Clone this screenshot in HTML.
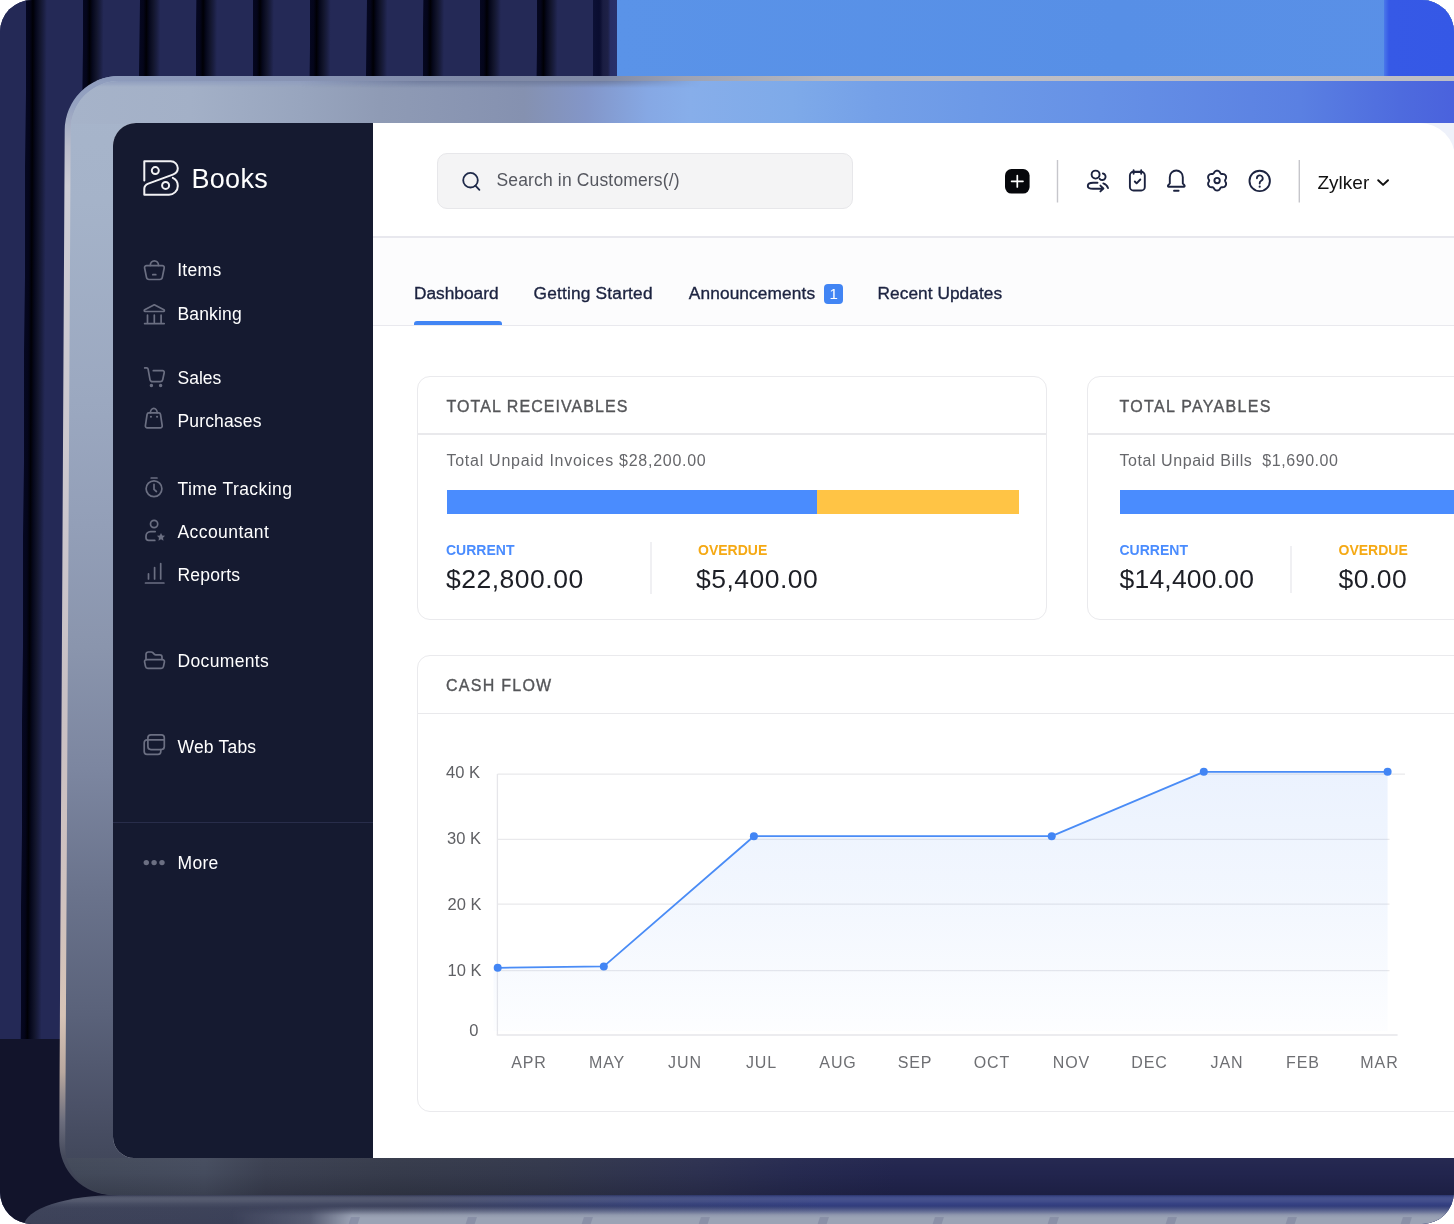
<!DOCTYPE html>
<html lang="en">
<head>
<meta charset="utf-8">
<title>Books Dashboard</title>
<style>
*{box-sizing:border-box;margin:0;padding:0}
html,body{width:1454px;height:1224px;background:#fff;overflow:hidden}
body{font-family:"Liberation Sans",sans-serif;position:relative}
#stage{position:absolute;left:0;top:0;width:1454px;height:1224px;border-radius:32px;overflow:hidden;background:#242956}
/* curtain stripes */
#stripes{position:absolute;left:0;top:0;width:617px;height:1041px;transform-origin:0 0;transform:skewX(-0.31deg);
 background:
  repeating-linear-gradient(90deg,
   #242956 0px,#242956 26px,
   #050720 26.4px,#04051a 30px,#000005 33px,#06081c 36px,#12152c 40px,#1a1e40 43.5px,#242956 47px,
   #242956 56.75px);
}
#laststripe{position:absolute;left:593px;top:0;width:24px;height:80px;background:linear-gradient(90deg,#0c1035 0,#0a0d30 5.5px,#0b0e31 7px,#1a1d42 10px,#1e2147 15px,#272e66 17.5px,#29316c 24px)}
#floor{position:absolute;left:0;top:1039px;width:700px;height:185px;background:#12142b}
#bluewall{position:absolute;left:617px;top:0;width:837px;height:80px;background:linear-gradient(90deg,#5a93e8 0,#578fe6 60%,#5a90e7 100%)}
#bluewall2{position:absolute;left:1384px;top:0;width:70px;height:80px;background:linear-gradient(90deg,#4a78ea 0,#3659e6 5px,#3558e6 100%)}
/* laptop lid */
#lid{position:absolute;left:64.9px;top:76px;width:1500px;height:1119px;border-radius:54px 0 0 54px;transform-origin:0 0;transform:skewX(-0.31deg);
 background:linear-gradient(180deg,#8f9dbe 0,#95a2c0 30px,#b9bccb 70px,#cdccd4 110px,#cbc6cc 40%,#c8c0c4 55%,#d0c2bf 74%,#d6c3b6 84%,#b9a89f 89%,#6a6c7c 93.5%,#454a5c 96.5%,#3a3f50 100%);overflow:hidden}
#lidin{position:absolute;left:6px;top:4.6px;width:1500px;height:1114.6px;border-radius:48px 0 0 49px;
 background:linear-gradient(180deg,#a7b5cb 0,#a5b3c9 10.9%,#9ba8c0 28.8%,#939fb8 39.8%,#8a95ad 50.8%,#7c86a0 61.8%,#6a738c 72.8%,#5a627a 83.8%,#4b5167 92.1%,#43495d 96.1%,#3e4456 100%);overflow:hidden}
#lidtop{position:absolute;left:0;top:0;width:1500px;height:43px;
 background:linear-gradient(90deg,#a6b3c9 0,#a3b0c7 120px,#98a5be 230px,#8f9bb5 309px,#8591b0 453px,#8396c8 515px,#86a8e4 577px,#87aeea 619px,#7eaae9 722px,#74a0e8 804px,#6c99e7 909px,#6691e6 1029px,#5a80e2 1229px,#4e6bde 1329px,#4a62dd 1383px)}
#lidedge{position:absolute;left:0;top:0;width:1500px;height:5px;background:linear-gradient(90deg,#8f9dbe 0,#8793b3 250px,#7f89a6 420px,#808aa6 540px,#9da2b3 620px,#b5b7c0 760px,#bdbdc4 880px,#bebec5 1400px)}
#lidshade{position:absolute;left:0;top:0;width:600px;height:6px;background:linear-gradient(180deg,rgba(143,157,190,.95) 0,rgba(143,157,190,0) 100%);-webkit-mask-image:linear-gradient(90deg,#000 0,#000 280px,transparent 520px);mask-image:linear-gradient(90deg,#000 0,#000 280px,transparent 520px)}
#lidshade2{position:absolute;left:230px;top:0;width:400px;height:7px;background:linear-gradient(180deg,rgba(108,120,152,.85) 0,rgba(108,120,152,0) 100%);-webkit-mask-image:linear-gradient(90deg,transparent 0,#000 120px,#000 300px,transparent 400px);mask-image:linear-gradient(90deg,transparent 0,#000 120px,#000 300px,transparent 400px)}
#lidbottom{position:absolute;left:0;top:1077.4px;width:1500px;height:37px;
 background:linear-gradient(180deg,rgba(255,255,255,.02) 0,rgba(0,0,0,0) 40%,rgba(0,0,10,.16) 100%),linear-gradient(90deg,#424959 0,#454c5e 140px,#3b4051 200px,#363b4b 330px,#33384c 480px,#2d3150 630px,#262a50 730px,#22254e 830px,#22254e 1400px)}
/* screen */
#screen{position:absolute;left:113px;top:123px;width:1360px;height:1035px;border-radius:23px 0 0 21px;background:#eef1fa;overflow:hidden}
/* base */
#base1{position:absolute;left:24px;top:1195px;width:1500px;height:70px;border-radius:96px 0 0 0 / 31px 0 0 0;overflow:hidden;
 background:linear-gradient(90deg,#474d63 0,#464c62 180px,#414762 380px,#394479 620px,#354183 800px,#354183 1438px)}
#base1:before{content:"";position:absolute;left:0;top:0;width:1500px;height:70px;
 background:linear-gradient(180deg,rgba(10,12,40,.25) 0,rgba(255,255,255,.06) 2px,rgba(255,255,255,.09) 4px,rgba(255,255,255,.06) 6.5px,rgba(255,255,255,0) 9px,rgba(10,12,40,.14) 13px,rgba(10,12,40,.18) 30px)}
#keys{position:absolute;left:0;top:1206px;width:1454px;height:19px;
 background:linear-gradient(180deg,rgba(155,163,181,0) 0,rgba(155,163,181,.45) 5px,rgba(155,163,181,.9) 9px,#9ba3b5 12px);
 -webkit-mask-image:linear-gradient(90deg,transparent 0,transparent 230px,rgba(0,0,0,.3) 310px,#000 352px);mask-image:linear-gradient(90deg,transparent 0,transparent 230px,rgba(0,0,0,.3) 310px,#000 352px)}
#keys i{position:absolute;top:11px;width:9px;height:12px;background:#8990a7;transform:skewX(-18deg)}
/* ui uses page coordinates */
#ui{position:absolute;left:-113px;top:-123px;width:1600px;height:1300px;will-change:transform}
#ui div,#ui svg,#ui span{position:absolute}
.nav{left:177.5px;color:#fff;font-size:17.5px;line-height:20px;white-space:nowrap}
.ico{fill:none;stroke:#6b6f82;stroke-width:1.7;stroke-linecap:round;stroke-linejoin:round;overflow:visible}
.tico{fill:none;stroke:#1c2340;stroke-width:1.9;stroke-linecap:round;stroke-linejoin:round;overflow:visible}
.tab{top:283px;color:#1c2340;font-size:17.3px;line-height:20px;white-space:nowrap;-webkit-text-stroke:0.35px #1c2340}

.card{background:#fff;border:1.5px solid #eaeaed;border-radius:13px}
.ctitle{color:#555659;font-size:16px;line-height:20px;letter-spacing:1.06px;white-space:nowrap;-webkit-text-stroke:0.35px #555659}
.sub{color:#66676b;font-size:16px;line-height:20px;white-space:nowrap}
.lbl{font-size:14px;line-height:18px;font-weight:bold;white-space:nowrap}
.amt{color:#1d1f26;font-size:26.5px;line-height:30px;white-space:nowrap}
.hline{height:1.5px;background:#e9e9ec}
.vline{width:1.5px;background:#f0f0f3}
.yl{color:#5f6064;font-size:16.5px;line-height:20px;white-space:nowrap;text-align:right;width:60px}
.xl{color:#6e6f73;font-size:16px;line-height:20px;white-space:nowrap;letter-spacing:0.9px;text-align:center;width:80px}
</style>
</head>
<body>
<div id="stage">
  <div id="stripes"></div>
  <div id="laststripe"></div>
  <div id="bluewall"></div>
  <div id="bluewall2"></div>
  <div id="floor"></div>
  <div id="base1"></div>
  <div id="keys"><i style="left:234px"></i><i style="left:349px"></i><i style="left:466px"></i><i style="left:582px"></i><i style="left:699px"></i><i style="left:818px"></i><i style="left:933px"></i><i style="left:1048px"></i><i style="left:1166px"></i><i style="left:1286px"></i><i style="left:1401px"></i></div>
  <div id="lid">
    <div id="lidedge"></div>
    <div id="lidin">
      <div id="lidtop"></div>
      <div id="lidshade"></div>
      <div id="lidshade2"></div>
      <div id="lidbottom"></div>
    </div>
  </div>
  <div id="screen">

    <div id="ui">
      <div id="sidebar" style="left:113px;top:123px;width:260px;height:1035px;background:#151a30"></div>
      <div id="mainbg" style="left:373px;top:123px;width:1081.5px;height:1035px;background:#fff;border-radius:0 35px 0 0"></div>
      <!-- logo -->
      <svg style="left:0;top:0" width="400" height="300" class="ico" >
        <g stroke="#f2f2f4" stroke-width="2">
        <path d="M144.3 180.6 V161.3 H170.8 a7 7 0 0 1 7 7 c0 3.2 -2 5.2 -5 6.3 L148.3 183.6 c-2.6 1 -4 2.6 -4 5.2 V194.7 H169 a8.8 8.8 0 0 0 8.8 -8.8 c0 -3.8 -2 -6.6 -5 -8"/>
        <circle cx="155.3" cy="170.6" r="3.5"/>
        <circle cx="165.6" cy="185.4" r="3.5"/>
        </g>
      </svg>
      <div id="brand" style="left:191.500px;top:163px;color:#fff;font-size:27px;line-height:32px;letter-spacing:.3px;white-space:nowrap">Books</div>
      <!-- nav -->
      <div class="nav" style="top:260px;letter-spacing:.3px;left:177.2px">Items</div>
      <div class="nav" style="top:304px;letter-spacing:.15px">Banking</div>
      <div class="nav" style="top:368px">Sales</div>
      <div class="nav" style="top:411px;letter-spacing:.15px">Purchases</div>
      <div class="nav" style="top:479px;letter-spacing:.43px">Time Tracking</div>
      <div class="nav" style="top:522px;letter-spacing:.42px">Accountant</div>
      <div class="nav" style="top:565px;letter-spacing:.2px">Reports</div>
      <div class="nav" style="top:651px;letter-spacing:.35px">Documents</div>
      <div class="nav" style="top:737px;letter-spacing:.2px">Web Tabs</div>
      <div class="nav" style="top:853px;letter-spacing:.3px">More</div>
      <div style="left:113px;top:821.5px;width:260px;height:1.5px;background:#282d4a"></div>
      <svg style="left:0;top:0" width="400" height="900" class="ico">
        <!-- items basket -->
        <path d="M150.3 265.4 a4.1 4.6 0 0 1 8.2 0"/>
        <path d="M146.6 265.6 h15.6 a2 2 0 0 1 2 2.4 l-1.9 9.4 a2.6 2.6 0 0 1 -2.6 2.1 h-10.6 a2.6 2.6 0 0 1 -2.6 -2.1 l-1.9 -9.4 a2 2 0 0 1 2 -2.4z"/>
        <path d="M152.8 274.7h3"/>
        <!-- banking -->
        <path d="M154.3 304.8 l9.6 5 a0.9 0.9 0 0 1 -.4 1.7 h-18.4 a0.9 0.9 0 0 1 -.4 -1.7z"/>
        <path d="M147.5 315.2v7 M154.3 315.2v7 M161.1 315.2v7 M144.6 323.6h19.6"/>
        <!-- sales cart -->
        <path d="M144.7 367.9 h1.8 a1.6 1.6 0 0 1 1.6 1.3 l1.9 10.4 a2.6 2.6 0 0 0 2.6 2.1 h7.6 a2.6 2.6 0 0 0 2.5 -2 l1.5 -7 a1.6 1.6 0 0 0 -1.6 -2 h-9.3"/>
        <circle cx="151.4" cy="385.6" r="0.9" fill="#6b6f82"/>
        <circle cx="160.6" cy="385.6" r="0.9" fill="#6b6f82"/>
        <!-- purchases bag -->
        <path d="M150.4 412.8 a3.4 4.4 0 0 1 6.8 0"/>
        <path d="M149 412.9 h9.7 a1.8 1.8 0 0 1 1.8 1.5 l1.7 11.3 a1.9 1.9 0 0 1 -1.9 2.2 h-13 a1.9 1.9 0 0 1 -1.9 -2.2 l1.7 -11.3 a1.8 1.8 0 0 1 1.8 -1.5z"/>
        <path d="M150.9 416.7h.1 M157 416.7h.1" stroke-width="2"/>
        <!-- time tracking -->
        <circle cx="154" cy="488.8" r="7.9"/>
        <path d="M151.2 478h5.8 M154 484.4v5 l2.4 2.1"/>
        <!-- accountant -->
        <circle cx="154.1" cy="524" r="3.6"/>
        <path d="M155.2 531.6 h-4.6 a4.6 4.6 0 0 0 -4.6 4.6 v1.6 a2.6 2.6 0 0 0 2.6 2.6 h6.2"/>
        <path d="M161 532.9 l1.25 2.55 2.8 .4 -2.03 1.98 .48 2.8 -2.5 -1.32 -2.5 1.32 .48 -2.8 -2.03 -1.98 2.8 -.4z" fill="#6b6f82" stroke="none"/>
        <!-- reports -->
        <path d="M148.5 573.8v5.2 M154.6 567.6v11.4 M160.7 563.6v15.4 M145.5 583h18.4"/>
        <!-- documents -->
        <path d="M146 659.6 v-5.4 a2.2 2.2 0 0 1 2.2 -2.2 h3 a2.2 2.2 0 0 1 1.6 .7 l1.4 1.5 a2.2 2.2 0 0 0 1.6 .7 h4 a2.2 2.2 0 0 1 2.2 2.2 v2.4"/>
        <path d="M146.6 659.6 h15.8 a2 2 0 0 1 2 2.4 l-.9 4.4 a2.4 2.4 0 0 1 -2.4 1.9 h-13.2 a2.4 2.4 0 0 1 -2.4 -1.9 l-.9 -4.4 a2 2 0 0 1 2 -2.4z"/>
        <!-- web tabs -->
        <rect x="147.9" y="734.8" width="16.4" height="14.8" rx="3"/>
        <path d="M148 739.9h16.2"/>
        <path d="M147.7 739.9 h-.7 a2.8 2.8 0 0 0 -2.8 2.8 v8.8 a2.8 2.8 0 0 0 2.8 2.8 h11 a2.8 2.8 0 0 0 2.8 -2.8 v-1.8"/>
        <!-- more -->
        <g fill="#6b6f82" stroke="none"><circle cx="146.3" cy="862.6" r="2.7"/><circle cx="154.1" cy="862.6" r="2.7"/><circle cx="162" cy="862.6" r="2.7"/></g>
      </svg>

      <!-- topbar -->
      <div style="left:373px;top:236px;width:1100px;height:1.5px;background:#e8e8ee"></div>
      <div style="left:373px;top:237.5px;width:1100px;height:87.5px;background:#fcfcfd"></div>
      <div style="left:373px;top:324.5px;width:1100px;height:1.5px;background:#e9e9ee"></div>
      <div style="left:437px;top:152.5px;width:415.5px;height:56.5px;background:#f4f4f5;border:1.5px solid #e7e7ea;border-radius:10px"></div>
      <svg style="left:0;top:0" width="1454" height="300" class="tico">
        <circle cx="470.5" cy="180.2" r="7.3" stroke-width="1.8" stroke="#1f2a4a"/>
        <path d="M475.4 185.6 l4 4.3" stroke-width="1.8" stroke="#1f2a4a"/>
        <!-- plus -->
        <rect x="1005" y="169" width="24.6" height="24.6" rx="6.5" fill="#06070b" stroke="none"/>
        <path d="M1011.6 181.3h11.4 M1017.3 175.6v11.4" stroke="#fff" stroke-width="1.7"/>
        <path d="M1057.5 160v42.6 M1299.3 160v42.6" stroke="#c6c6cb" stroke-width="1.4" stroke-linecap="butt"/>
        <!-- users -->
        <circle cx="1095.600" cy="174.600" r="4"/>
        <path d="M1102.9 173.5 a3.300 3.300 0 1 1 -3.200 5.300"/>
        <path d="M1097.500 182.800 h-4.400 c-3.100 0 -5.300 1.400 -5.300 3.200 c0 1.800 2.200 2.800 5.300 2.800 h9.800 M1100.400 185.600 l3 2.900 -3 2.900"/>
        <path d="M1103.300 183.400 c2.300 .7 3.900 2.300 4.700 4.600"/>
        <!-- clipboard -->
        <rect x="1129.900" y="171.800" width="14.900" height="18.700" rx="3.600"/>
        <path d="M1133.600 170.200v3.500 M1141.200 170.200v3.500" />
        <path d="M1133.600 172.500h7.600" stroke-width="1.200"/>
        <path d="M1134.800 181.500 l1.800 1.800 3.700 -3.800" stroke-width="1.900"/>
        <!-- bell -->
        <path d="M1169.8 183.4 v-6.2 a6.5 6.7 0 0 1 13 0 v6.2 l1.7 2 a.8 .8 0 0 1 -.6 1.3 h-15.2 a.8 .8 0 0 1 -.6 -1.3z"/>
        <path d="M1174 190.7h4.6"/>
        <!-- gear -->
        <path d="M1225.0 180.6 L1225.2 179.9 L1225.6 179.1 L1226.0 178.2 L1226.1 177.3 L1226.0 176.4 L1225.7 175.7 L1225.2 175.0 L1224.5 174.4 L1223.6 174.1 L1222.6 174.0 L1221.8 174.0 L1221.0 173.8 L1220.5 173.3 L1220.0 172.5 L1219.5 171.7 L1218.8 171.1 L1218.0 170.8 L1217.1 170.7 L1216.2 170.8 L1215.4 171.1 L1214.7 171.7 L1214.2 172.5 L1213.7 173.3 L1213.1 173.8 L1212.4 174.0 L1211.6 174.0 L1210.6 174.1 L1209.7 174.4 L1209.0 175.0 L1208.5 175.6 L1208.2 176.4 L1208.1 177.3 L1208.2 178.2 L1208.6 179.1 L1209.0 179.9 L1209.2 180.6 L1209.0 181.3 L1208.6 182.1 L1208.2 183.0 L1208.1 183.9 L1208.2 184.8 L1208.5 185.5 L1209.0 186.2 L1209.7 186.8 L1210.6 187.1 L1211.6 187.2 L1212.4 187.2 L1213.1 187.4 L1213.7 187.9 L1214.2 188.7 L1214.7 189.5 L1215.4 190.1 L1216.2 190.4 L1217.1 190.5 L1218.0 190.4 L1218.8 190.1 L1219.5 189.5 L1220.0 188.7 L1220.5 187.9 L1221.0 187.4 L1221.8 187.2 L1222.6 187.2 L1223.6 187.1 L1224.5 186.8 L1225.2 186.2 L1225.7 185.5 L1226.0 184.8 L1226.1 183.9 L1226.0 183.0 L1225.6 182.1 L1225.2 181.3z"/>
        <circle cx="1217.1" cy="180.6" r="2.7"/>
        <!-- help -->
        <circle cx="1259.7" cy="180.900" r="10.2"/>
        <path d="M1256.9 178.3 a2.9 2.9 0 1 1 4.300 2.500 c-1 .6 -1.500 1.200 -1.500 2.300 v.4" stroke-width="1.8"/>
        <path d="M1259.7 186.600v.1" stroke-width="2.1"/>
        <!-- chevron -->
        <path d="M1378.2 180.200 l4.900 4.700 4.900 -4.700" stroke="#111" stroke-width="2"/>
      </svg>
      <div id="searchtxt" style="left:496.5px;top:170px;color:#55575f;font-size:17.5px;line-height:20px;letter-spacing:.15px;white-space:nowrap">Search in Customers(/)</div>
      <div id="zylker" style="left:1317.500px;top:172px;color:#111;font-size:19px;line-height:22px;white-space:nowrap">Zylker</div>
      <!-- tabs -->
      <div class="tab" id="t1" style="left:414px">Dashboard</div>
      <div class="tab" id="t2" style="left:533.5px;letter-spacing:.2px">Getting Started</div>
      <div class="tab" id="t3" style="left:688.800px;letter-spacing:.12px">Announcements</div>
      <div class="tab" id="t4" style="left:877.5px;letter-spacing:.05px">Recent Updates</div>
      <div style="left:824.2px;top:283.8px;width:19.2px;height:20.4px;border-radius:4px;background:#4285f4;color:#fff;font-size:15px;line-height:20.8px;text-align:center">1</div>
      <div style="left:414px;top:321px;width:88px;height:4px;border-radius:3px 3px 0 0;background:#4285f4"></div>

      <div class="card" style="left:417px;top:375.5px;width:630px;height:244.5px"></div>
      <div class="hline" style="left:418px;top:433px;width:628px"></div>
      <div class="ctitle" id="c1t" style="left:446.5px;top:396.500px">TOTAL RECEIVABLES</div>
      <div class="sub" id="c1s" style="left:446.5px;top:451px;letter-spacing:.73px">Total Unpaid Invoices $28,200.00</div>
      <div style="left:446.5px;top:489.5px;width:370.500px;height:24px;background:#4a8cfe"></div>
      <div style="left:817px;top:489.5px;width:202px;height:24px;background:#ffc445"></div>
      <div class="lbl" id="c1a" style="left:446px;top:541px;color:#4a8cfe">CURRENT</div>
      <div class="amt" id="c1b" style="left:446px;top:564px;letter-spacing:.5px">$22,800.00</div>
      <div class="vline" style="left:650px;top:542px;height:52px"></div>
      <div class="lbl" id="c1c" style="left:698px;top:541px;color:#f5a914">OVERDUE</div>
      <div class="amt" id="c1d" style="left:696px;top:564px;letter-spacing:.48px">$5,400.00</div>

      <div class="card" style="left:1087px;top:375.5px;width:430px;height:244.5px"></div>
      <div class="hline" style="left:1088px;top:433px;width:400px"></div>
      <div class="ctitle" id="c2t" style="left:1119.5px;top:396.500px;letter-spacing:1.3px">TOTAL PAYABLES</div>
      <div class="sub" id="c2s" style="left:1119.5px;top:451px;letter-spacing:.56px">Total Unpaid Bills&nbsp; $1,690.00</div>
      <div style="left:1120px;top:489.5px;width:400px;height:24px;background:#4a8cfe"></div>
      <div class="lbl" id="c2a" style="left:1119.5px;top:541px;color:#4a8cfe">CURRENT</div>
      <div class="amt" id="c2b" style="left:1119.5px;top:564px;letter-spacing:.2px">$14,400.00</div>
      <div class="vline" style="left:1290px;top:546px;height:47px"></div>
      <div class="lbl" id="c2c" style="left:1338.500px;top:541px;color:#f5a914">OVERDUE</div>
      <div class="amt" id="c2d" style="left:1338.500px;top:564px;letter-spacing:.5px">$0.00</div>

      <div class="card" style="left:417px;top:654.5px;width:1100px;height:457px"></div>
      <div class="hline" style="left:418px;top:712.5px;width:1080px"></div>
      <div class="ctitle" id="c3t" style="left:446px;top:676px;letter-spacing:1.26px">CASH FLOW</div>
      <svg style="left:0;top:0" width="1454" height="1224">
        <defs><linearGradient id="ag" x1="0" y1="0" x2="0" y2="1"><stop offset="0" stop-color="#4285f4" stop-opacity=".105"/><stop offset="0.45" stop-color="#4285f4" stop-opacity=".07"/><stop offset="0.8" stop-color="#4285f4" stop-opacity=".035"/><stop offset="1" stop-color="#4285f4" stop-opacity=".012"/></linearGradient></defs>
        <g stroke="#e9e9ec" stroke-width="1.3" fill="none">
          <path d="M497.5 774.2H1405 M497.5 839.400H1389.500 M497.5 904.2H1389.500 M497.5 970.600H1389.500"/>
          <path d="M497.4 774V1035" stroke="#e6e6ea"/>
          <path d="M496.7 1035H1397.600" stroke="#e6e6ea" stroke-width="1.4"/>
        </g>
        <path d="M497.5 967.8 L603.8 966.400 L753.9 836.2 L1051.700 836.2 L1203.800 771.8 L1387.600 771.8 V1031 H493.5 V967.8z" fill="url(#ag)"/>
        <path d="M497.5 967.8 L603.8 966.400 L753.9 836.2 L1051.700 836.2 L1203.800 771.8 L1387.600 771.8" fill="none" stroke="#4a8cf6" stroke-width="1.8" stroke-linejoin="round"/>
        <g fill="#4285f4"><circle cx="497.700" cy="967.8" r="4"/><circle cx="603.8" cy="966.400" r="4"/><circle cx="753.9" cy="836.2" r="4"/><circle cx="1051.700" cy="836.2" r="4"/><circle cx="1203.800" cy="771.8" r="4"/><circle cx="1387.600" cy="771.8" r="4"/></g>
      </svg>
      <div class="yl" style="left:420px;top:762px">40 K</div>
      <div class="yl" style="left:421px;top:828px">30 K</div>
      <div class="yl" style="left:421.5px;top:893.5px">20 K</div>
      <div class="yl" style="left:421.5px;top:959.5px">10 K</div>
      <div class="yl" style="left:418.500px;top:1019.5px">0</div>
      <div class="xl" style="left:489px;top:1052.500px">APR</div>
      <div class="xl" style="left:567px;top:1052.500px">MAY</div>
      <div class="xl" style="left:645px;top:1052.500px">JUN</div>
      <div class="xl" style="left:721.500px;top:1052.500px">JUL</div>
      <div class="xl" style="left:798px;top:1052.500px">AUG</div>
      <div class="xl" style="left:875px;top:1052.500px">SEP</div>
      <div class="xl" style="left:952px;top:1052.500px">OCT</div>
      <div class="xl" style="left:1031.500px;top:1052.500px">NOV</div>
      <div class="xl" style="left:1109.500px;top:1052.500px">DEC</div>
      <div class="xl" style="left:1187px;top:1052.500px">JAN</div>
      <div class="xl" style="left:1263px;top:1052.500px">FEB</div>
      <div class="xl" style="left:1339.500px;top:1052.500px">MAR</div>
    </div>
  </div>
</div>
</body>
</html>
